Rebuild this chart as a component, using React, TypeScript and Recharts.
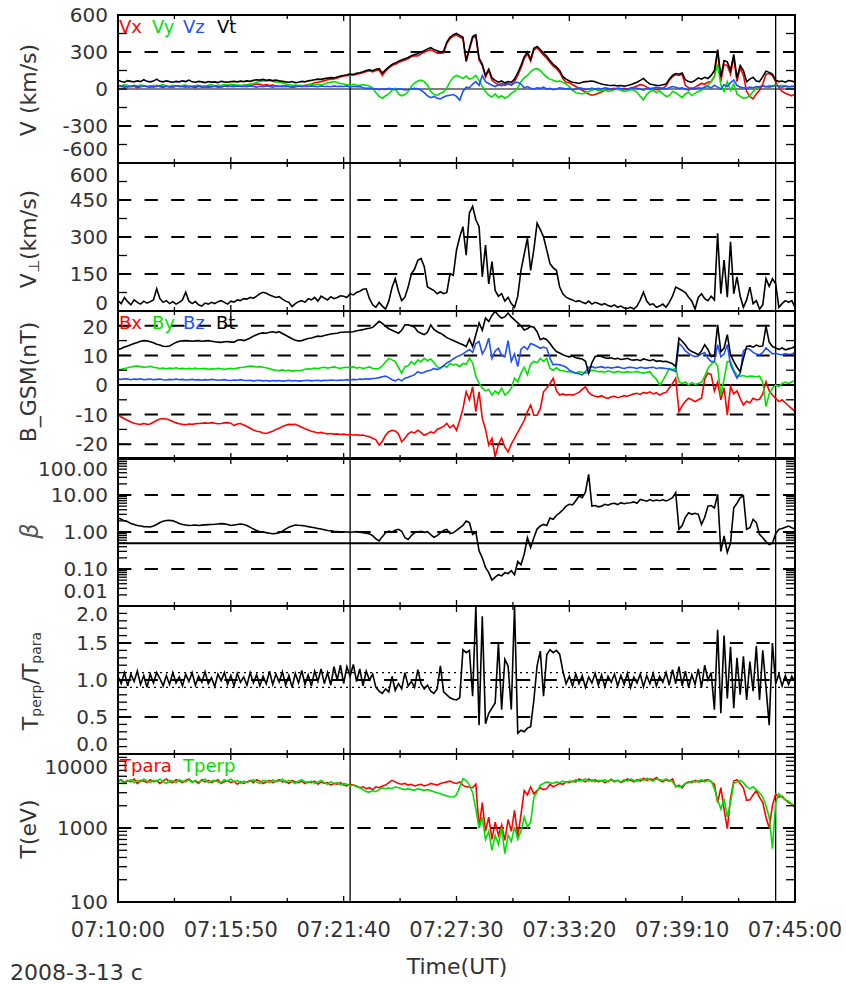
import React from 'react';
import { LineChart, Line, XAxis, YAxis, ReferenceLine } from 'recharts';

const FONT = '"DejaVu Sans", sans-serif';
const TEXT = '#333';
const RED = '#ff0000';
const GREEN = '#00e000';
const BLUE = '#1f4fff';
const BLACK = '#000000';

const W = 846;
const PL = 118;
const PR = 795;
const PH = 148;
const TOPS = [15, 163, 311, 458, 606, 754];

// time axis: seconds after 07:10:00, sampled every 10 s
const START_SEC = 7 * 3600 + 10 * 60;
const STEP = 10;
const TIME = Array.from({ length: 211 }, (_, i) => i * STEP);
const X_TICKS = [0, 175, 350, 525, 700, 875, 1050, 1225, 1400, 1575, 1750, 1925, 2100];
const EVENT_TIMES = [720, 2040];

// ---- Panel 1: V (km/s)
const VX = [
  25, 20, 15, 28, 18, 22, 10, 20, 25, 18,
  15, 22, 30, 18, 12, 25, 20, 15, 22, 28,
  20, 15, 25, 18, 10, 22, 15, 20, 12, 18,
  22, 15, 20, 25, 18, 22, 28, 20, 25, 30,
  32, 28, 35, 40, 38, 30, 35, 28, 32, 25,
  22, 18, 25, 20, 15, 18, 22, 25, 30, 35,
  40, 50, 55, 60, 68, 75, 80, 82, 90, 98,
  105, 108, 115, 112, 120, 125, 132, 142, 148, 138,
  150, 155, 110, 145, 170, 190, 200, 215, 225, 235,
  245, 262, 270, 268, 285, 298, 310, 318, 305, 290,
  290, 292, 368, 408, 428, 438, 422, 410, 220, 320,
  412, 428, 235, 190, 95, 150, 70, 50, 35, 45,
  30, 40, 35, 60, 110, 170, 245, 285, 225, 315,
  335, 305, 275, 250, 215, 185, 165, 135, 85, 55,
  50, 35, 20, 5, -10, -25, -40, -50, -45, -35,
  -25, -10, -5, 0, 5, -5, 0, 5, -3, 8,
  15, 25, 35, 30, 15, 5, 0, -5, 0, 5,
  25, 70, 100, 115, 110, 120, 30, 10, 5, 15,
  30, 45, 40, 55, 60, 100, 310, 60, 200, 190,
  120, 260, 60, 170, 110, -20, -60, -80, -40, -10,
  40, 120, 125, 110, 60, 10, -20, -35, -45, -55,
  -40,
];
const VY = [
  30, 25, 35, 28, 22, 30, 25, 32, 28, 20,
  25, 30, 22, 28, 35, 25, 20, 30, 25, 22,
  28, 32, 25, 20, 28, 30, 22, 25, 30, 35,
  25, 30, 28, 35, 30, 38, 35, 32, 30, 28,
  35, 40, 45, 55, 62, 68, 65, 70, 62, 58,
  55, 48, 40, 35, 30, 32, 28, 30, 25, 32,
  35, 30, 38, 32, 40, 48, 55, 60, 52, 45,
  40, 35, 30, 38, 32, 28, 35, 30, 25, 10,
  -30, -60, -75, -55, -40, -10, 5, -40, -55, -45,
  -20, 20, 50, 65, 72, 60, 30, -20, -45, -50,
  -35, -25, 10, 60, 95, 110, 100, 85, 105, 80,
  90, 110, 70, 20, -20, -50, -65, -40, -70, -55,
  -75, -60, -35, -20, 10, 60, 90, 110, 140, 160,
  165, 150, 120, 95, 80, 70, 60, 65, 55, 40,
  20, -10, -30, -35, -40, -30, -20, -10, 0, -15,
  -10, -5, -20, -15, -5, 0, -10, -20, -15, -5,
  -10, -25, -60, -89, -45, -20, -10, -30, -15, -40,
  -60, -55, -20, -30, -50, -70, -40, -25, -55, -35,
  -20, -10, 20, 30, 60, 100, 200, 30, -20, 60,
  -10, 40, -40, -60, -75, -70, -55, -20, 10, 20,
  25, 15, 30, 20, 35, 25, 30, 20, 15, 25,
  20,
];
const VZ = [
  18, 25, 20, 15, 22, 28, 20, 18, 24, 20,
  22, 15, 20, 25, 18, 22, 15, 20, 26, 18,
  20, 24, 15, 22, 18, 25, 20, 15, 22, 18,
  24, 20, 15, 22, 28, 20, 18, 25, 20, 22,
  18, 24, 20, 15, 22, 18, 25, 20, 15, 22,
  20, 25, 18, 22, 15, 20, 24, 18, 22, 20,
  25, 20, 18, 24, 20, 22, 18, 25, 20, 22,
  20, 25, 15, 22, 18, 20, 10, 5, 8, 0,
  2, -5, 0, -3, 5, 0, -5, 2, 0, -8,
  -5, 0, 5, 2, -10, -30, -55, -70, -60, -75,
  -80, -65, -55, -50, -45, -60, -90, -20, 15, 10,
  40, 60, 30, 110, 60, 45, 30, 20, 35, 25,
  40, 45, 30, 50, 55, 40, 10, 20, 5, 0,
  10, 5, 15, 0, 5, -5, 0, 10, 5, 0,
  5, -8, 0, 10, 5, -5, 0, 8, -3, 5,
  0, 10, 5, -5, 0, 8, 3, -5, 0, 5,
  10, 5, 0, -10, 5, 0, 8, 15, 10, 5,
  0, 10, 20, 15, 5, 10, 0, -10, 5, 0,
  10, 5, 15, 20, 10, 30, 15, 0, 35, 20,
  50, 73, 30, 15, 10, 5, 15, 10, 20, 15,
  25, 20, 15, 25, 30, 20, 15, 25, 20, 18,
  20,
];
const VT = [
  72, 60, 55, 68, 62, 58, 66, 60, 75, 62,
  58, 64, 80, 62, 58, 66, 60, 55, 62, 58,
  66, 60, 72, 58, 55, 62, 58, 52, 60, 56,
  58, 52, 62, 58, 55, 60, 62, 58, 64, 60,
  66, 62, 70, 75, 72, 78, 70, 74, 68, 72,
  66, 62, 58, 55, 60, 52, 55, 62, 58, 66,
  70, 75, 80, 78, 84, 88, 92, 90, 98, 105,
  110, 115, 122, 118, 128, 132, 140, 150, 155, 148,
  160, 165, 130, 155, 180, 200, 210, 225, 235, 245,
  255, 270, 280, 285, 300, 310, 325, 335, 320, 310,
  300, 305, 380, 420, 440, 450, 435, 420, 230, 330,
  425, 440, 250, 200, 110, 160, 90, 70, 55, 65,
  50, 60, 55, 80, 130, 190, 260, 300, 240, 330,
  345, 320, 290, 265, 230, 200, 180, 150, 100, 80,
  65, 55, 50, 45, 55, 60, 62, 65, 58, 48,
  40, 35, 30, 28, 30, 25, 28, 22, 28, 35,
  45, 55, 70, 85, 60, 40, 35, 30, 28, 35,
  40, 80, 110, 125, 120, 130, 75, 60, 55, 70,
  90, 80, 95, 85, 110, 150, 320, 100, 230, 220,
  150, 280, 90, 190, 150, 60, 80, 95, 65, 60,
  100, 145, 135, 120, 70, 60, 65, 55, 68, 65,
  55,
];

// ---- Panel 2: V perp (km/s)
const VPERP = [
  42, 30, 55, 38, 25, 45, 35, 28, 40, 32,
  38, 45, 90, 50, 35, 42, 30, 38, 28, 35,
  45, 76, 40, 30, 38, 25, 20, 32, 28, 35,
  30, 38, 42, 35, 28, 40, 36, 45, 42, 50,
  48, 55, 52, 60, 70, 76, 72, 65, 60, 55,
  58, 48, 40, 35, 18, 30, 38, 42, 35, 50,
  45, 55, 40, 60, 52, 45, 58, 50, 55, 62,
  60, 55, 70, 65, 75, 80, 88, 90, 50, 25,
  15, 35, 20, 8, 40, 95, 131, 80, 42, 56,
  97, 151, 170, 206, 213, 180, 97, 90, 83, 70,
  78, 70, 75, 151, 145, 247, 300, 342, 226, 397,
  424, 370, 342, 138, 267, 110, 200, 83, 60, 70,
  40, 55, 30, 15, 60, 165, 230, 295, 165, 250,
  356, 330, 300, 247, 192, 175, 165, 97, 70, 56,
  50, 45, 38, 42, 35, 30, 40, 28, 35, 30,
  25, 30, 22, 18, 25, 15, 20, 12, 10, 15,
  8, 20, 45, 76, 40, 25, 29, 15, 20, 28,
  15, 35, 60, 97, 90, 83, 75, 56, 40, 8,
  55, 70, 50, 42, 60, 45, 315, 70, 206, 56,
  281, 70, 138, 60, 15, 45, 97, 30, 42, 8,
  25, 131, 100, 131, 110, 15, 30, 42, 35, 42,
  15,
];

// ---- Panel 3: B_GSM (nT)
const BX = [
  -10.2, -10.8, -11.4, -12.0, -12.5, -12.9, -13.2, -13.3, -13.0, -13.3,
  -13.2, -12.6, -12.0, -11.5, -11.3, -11.5, -11.8, -12.3, -12.8, -13.1,
  -13.3, -13.4, -13.2, -13.3, -13.1, -13.0, -12.9, -12.8, -12.9, -12.7,
  -12.9, -13.1, -13.0, -12.8, -12.7, -12.9, -13.7, -13.2, -13.0, -13.5,
  -14.0, -14.6, -15.2, -15.6, -15.8, -16.2, -16.4, -16.0, -15.6, -15.0,
  -14.6, -14.0, -13.6, -13.3, -13.4, -13.3, -13.8, -14.3, -14.8, -15.2,
  -15.6, -15.9, -16.2, -16.0, -16.3, -16.5, -16.4, -16.6, -16.5, -16.7,
  -16.6, -16.8, -16.7, -16.9, -16.8, -17.0, -16.9, -17.2, -17.5, -18.0,
  -18.5, -20.3, -19.0, -17.0, -15.8, -15.3, -15.5, -16.5, -19.2, -18.0,
  -16.5, -15.8, -16.2, -15.3, -16.0, -17.0, -16.5, -15.8, -16.2, -15.0,
  -14.5, -14.0, -13.0, -14.5, -13.5, -15.3, -12.0, -8.0, -2.3, -5.0,
  -0.6, -9.0, -2.3, -11.3, -15.0, -20.3, -18.0, -24.3, -20.0, -18.0,
  -21.0, -22.6, -20.0, -18.0, -16.0, -14.0, -12.0, -9.0, -6.8, -10.2,
  -10.2, -8.0, -2.3, -1.0, 0.5, 2.3, -2.0, -3.4, -3.0, -3.4,
  -3.2, -3.4, -3.0, -2.5, -1.5, -0.6, -2.5, -3.4, -3.8, -4.0,
  -3.6, -4.2, -4.5, -4.0, -3.8, -4.3, -4.0, -3.6, -3.8, -3.4,
  -3.0, -2.8, -3.2, -2.5, -2.8, -2.3, -3.0, -2.6, -3.4, -2.8,
  -2.5, -1.0, 0.5, 2.3, -9.0, -7.0, -5.5, -4.5, -5.0, -5.6,
  -5.0, -4.5, 2.0, 4.0, 3.5, -2.0, 1.0, -5.0, -1.0, -10.2,
  -0.5, -3.0, -2.0, -4.5, -6.8, -5.5, -6.0, -4.5, -5.0, -4.8,
  -3.0, 1.1, -2.0, -3.4, -4.5, -5.6, -5.0, -6.0, -7.0, -8.0,
  -9.0,
];
const BY = [
  5.1, 5.3, 5.6, 5.8, 6.1, 6.3, 6.4, 6.2, 6.0, 6.1,
  6.3, 6.0, 5.8, 5.6, 5.7, 5.5, 5.7, 5.6, 5.8, 5.5,
  5.6, 5.4, 5.6, 5.5, 5.7, 5.4, 5.5, 5.6, 5.3, 5.5,
  5.4, 5.6, 5.5, 5.3, 5.5, 5.6, 5.4, 5.7, 5.9, 6.0,
  6.2, 6.4, 6.3, 6.1, 6.2, 6.0, 5.8, 5.5, 5.2, 5.0,
  4.9, 5.1, 4.8, 5.0, 4.7, 4.9, 4.8, 5.0, 5.3, 5.5,
  5.4, 5.7, 5.5, 5.8, 6.0, 5.7, 5.9, 6.1, 5.8, 5.6,
  5.9, 6.0, 5.8, 6.2, 5.7, 6.0, 5.6, 5.8, 6.1, 5.6,
  5.5, 5.6, 6.5, 7.8, 9.0, 8.5, 7.9, 6.0, 4.0, 6.2,
  6.5, 7.9, 7.0, 8.5, 7.8, 9.0, 8.2, 8.8, 7.5, 6.2,
  5.6, 6.5, 6.0, 7.3, 6.8, 7.0, 6.2, 7.3, 7.0, 9.0,
  7.5, 3.0, 0.6, -1.0, -2.0, -1.5, -3.4, -2.0, -3.0, -1.0,
  -3.4, -2.5, -1.0, 2.3, 1.0, 4.0, 6.0, 3.5, 7.0, 8.0,
  7.5, 9.0, 8.0, 9.0, 5.6, 5.0, 5.8, 5.0, 4.8, 4.5,
  4.6, 4.2, 4.0, 4.5, 4.3, 4.0, 4.2, 5.0, 4.8, 4.5,
  4.6, 4.3, 4.8, 4.5, 4.2, 4.6, 4.4, 4.2, 4.5, 4.3,
  4.4, 4.6, 4.2, 4.0, 4.3, 4.5, 3.0, 2.0, 0.0, 1.5,
  3.5, 5.6, 5.2, 5.6, 1.1, 0.5, 1.0, 0.0, 0.8, 0.2,
  0.5, 1.0, 3.0, 5.6, 7.0, 7.9, 6.5, -3.4, 2.0, 7.9,
  7.9, 5.0, 3.4, 3.0, 3.2, 2.8, 3.0, 2.9, 2.8, 3.0,
  1.0, -7.3, -3.0, -1.1, 0.0, -0.5, 0.5, 1.0, 0.5, 1.1,
  1.5,
];
const BZ = [
  2.0, 1.9, 2.1, 2.0, 1.8, 2.0, 1.9, 2.1, 1.8, 1.9,
  2.0, 1.8, 1.9, 2.0, 1.8, 1.7, 1.9, 1.8, 2.0, 1.8,
  1.9, 1.7, 1.8, 1.9, 1.7, 1.8, 1.6, 1.8, 1.7, 1.9,
  1.8, 1.6, 1.7, 1.8, 1.6, 1.5, 1.7, 1.6, 1.8, 1.6,
  1.5, 1.6, 1.4, 1.5, 1.6, 1.4, 1.5, 1.3, 1.5, 1.4,
  1.5, 1.3, 1.4, 1.6, 1.4, 1.5, 1.3, 1.4, 1.5, 1.6,
  1.4, 1.5, 1.6, 1.4, 1.6, 1.5, 1.7, 1.6, 1.5, 1.7,
  1.6, 1.8, 1.7, 1.9, 1.8, 2.0, 1.9, 2.1, 2.0, 2.2,
  2.3, 2.5, 2.8, 3.0, 2.5, 1.8, 1.4, 2.0, 1.4, 2.3,
  2.6, 3.0, 3.5, 4.5, 4.0, 4.3, 4.8, 5.0, 5.6, 5.2,
  5.8, 6.5, 7.5, 8.0, 8.8, 9.5, 10.0, 10.5, 11.3, 12.0,
  11.0, 14.0, 14.7, 10.5, 12.4, 15.8, 9.0, 11.5, 12.4, 10.0,
  9.5, 15.0, 8.0, 10.5, 6.2, 12.0, 13.0, 12.0, 14.0, 13.6,
  13.0, 12.4, 12.8, 12.4, 9.0, 6.8, 7.0, 6.8, 6.5, 6.0,
  5.0, 4.5, 4.0, 3.8, 3.4, 4.5, 6.0, 6.2, 5.8, 6.0,
  6.2, 5.8, 6.0, 5.7, 5.9, 6.1, 5.8, 5.6, 5.9, 6.0,
  5.8, 5.6, 6.0, 5.8, 5.7, 5.9, 6.0, 5.6, 5.8, 5.7,
  5.6, 5.4, 5.0, 4.5, 14.1, 13.0, 11.5, 10.7, 10.0, 9.6,
  9.8, 10.5, 11.0, 9.0, 7.9, 8.0, 13.6, 9.5, 10.5, 13.6,
  6.8, 4.5, 2.3, 4.0, 11.5, 12.4, 12.0, 11.0, 10.5, 10.2,
  11.0, 12.5, 11.5, 10.5, 10.7, 10.4, 10.2, 10.6, 10.3, 10.5,
  11.0,
];
const BT = [
  11.9, 12.3, 12.8, 13.2, 13.6, 14.0, 14.4, 14.8, 15.0, 14.9,
  14.6, 14.3, 13.8, 13.5, 13.1, 13.0, 13.2, 13.8, 14.4, 14.8,
  14.9, 15.0, 14.9, 14.8, 14.9, 15.0, 14.8, 14.9, 15.0, 14.8,
  14.6, 14.5, 14.4, 14.6, 14.7, 14.5, 14.5, 15.1, 15.3, 15.0,
  15.4, 15.9, 16.5, 17.0, 17.4, 17.6, 17.5, 17.8, 18.0, 17.7,
  18.0, 17.4, 16.8, 16.2, 15.6, 15.1, 14.9, 15.0, 15.4, 15.7,
  15.9, 16.2, 16.5, 16.4, 16.7, 17.0, 17.2, 17.4, 17.5, 17.8,
  17.8, 17.9, 17.9, 18.0, 18.3, 18.5, 18.7, 19.0, 19.2, 19.5,
  20.5, 21.5, 20.8, 19.8, 19.0, 18.5, 18.0, 17.5, 18.5, 20.3,
  20.3, 20.0, 19.5, 18.0, 17.5, 17.0, 17.8, 20.3, 18.8, 18.0,
  17.5, 16.8, 16.0, 15.5, 15.0, 14.5, 14.0, 13.6, 13.0, 15.5,
  13.0, 17.0, 21.0, 18.5, 22.6, 21.5, 23.5, 24.9, 23.5, 22.6,
  23.0, 24.3, 23.0, 22.0, 21.0, 20.0, 18.6, 19.0, 19.8, 19.5,
  18.0, 15.3, 15.8, 15.3, 14.0, 12.5, 11.3, 10.8, 10.2, 9.8,
  9.5, 9.8, 9.2, 9.0, 8.8, 8.0, 4.0, 7.5, 9.6, 9.8,
  9.6, 9.2, 9.0, 9.2, 8.8, 9.0, 8.6, 8.8, 9.0, 8.5,
  8.4, 8.6, 8.2, 8.8, 8.5, 8.2, 8.6, 8.0, 8.2, 7.9,
  8.0, 7.6, 7.2, 6.2, 15.8, 14.8, 13.5, 12.0, 11.3, 10.8,
  10.2, 11.5, 13.6, 12.0, 9.6, 9.8, 20.3, 11.3, 12.5, 17.0,
  10.2, 8.0, 6.0, 4.5, 9.0, 13.0, 13.2, 12.8, 13.5, 13.0,
  13.2, 19.8, 14.5, 13.0, 12.5, 12.0, 12.5, 11.9, 12.2, 12.5,
  13.0,
];

// ---- Panel 4: plasma beta
const BETA = [
  2.4, 2.2, 2.0, 1.9, 1.7, 1.6, 1.5, 1.45, 1.4, 1.38,
  1.36, 1.45, 1.6, 1.8, 1.95, 2.05, 2.07, 2.0, 1.85, 1.7,
  1.6, 1.55, 1.5, 1.52, 1.55, 1.5, 1.53, 1.56, 1.58, 1.6,
  1.62, 1.65, 1.68, 1.66, 1.6, 1.5, 1.55, 1.6, 1.65, 1.6,
  1.5, 1.35, 1.2, 1.1, 1.02, 1.0, 0.96, 0.93, 0.9, 0.92,
  0.95, 1.05, 1.2, 1.35, 1.45, 1.55, 1.52, 1.5, 1.45, 1.4,
  1.35, 1.3, 1.25, 1.2, 1.15, 1.1, 1.08, 1.05, 1.03, 1.0,
  1.02, 1.0, 0.98, 1.0, 1.02, 0.98, 0.96, 0.92, 0.88, 0.8,
  0.65, 0.57, 0.75, 0.95, 1.06, 1.0, 1.12, 1.18, 1.05, 0.7,
  0.63, 0.8, 0.96, 1.0, 1.05, 0.98, 1.02, 0.85, 0.72, 0.8,
  0.95, 1.1, 1.18, 0.9, 0.95, 1.1, 1.3, 1.5, 1.98, 1.8,
  0.86, 1.0, 0.31, 0.2, 0.11, 0.08, 0.05, 0.06, 0.07, 0.065,
  0.08, 0.075, 0.09, 0.07, 0.16, 0.13, 0.25, 0.7, 0.38, 0.7,
  1.2, 1.45, 1.6, 1.5, 2.4, 2.2, 2.8, 3.3, 4.0, 5.0,
  5.6, 5.4, 7.0, 9.4, 8.5, 12, 36, 5.0, 5.2, 4.8,
  5.0, 5.6, 5.3, 5.8, 6.0, 5.5, 6.2, 5.8, 6.1, 6.2,
  6.5, 6.0, 7.6, 7.2, 6.8, 7.5, 6.9, 7.3, 7.0, 7.4,
  6.9, 7.5, 8.5, 11.6, 1.18, 1.5, 2.5, 3.3, 3.0, 3.2,
  3.0, 1.6, 2.5, 5.0, 5.2, 4.5, 10.4, 0.3, 0.78, 0.28,
  0.5, 4.5, 6.0, 8.5, 9.4, 1.18, 1.3, 2.2, 1.8, 0.86,
  0.7, 0.55, 0.46, 0.5, 0.9, 1.18, 1.25, 1.35, 1.45, 1.3,
  1.2,
];

// ---- Panel 5: Tperp / Tpara
const RATIO = [
  1.05, 0.95, 1.10, 0.92, 1.08, 0.98, 1.12, 0.94, 1.06, 0.90,
  1.08, 0.96, 1.10, 1.02, 0.92, 1.06, 0.94, 1.10, 0.96, 1.04,
  0.92, 1.08, 0.98, 1.10, 0.93, 1.05, 0.97, 1.11, 0.95, 1.03,
  0.91, 1.08, 0.99, 1.10, 0.94, 1.06, 0.92, 1.09, 0.97, 1.04,
  0.93, 1.10, 0.96, 1.07, 0.92, 1.05, 0.95, 1.12, 0.94, 1.08,
  0.97, 1.11, 0.93, 1.06, 0.90, 1.09, 0.96, 1.13, 0.94, 1.07,
  0.92, 1.12, 0.98, 1.15, 0.95, 1.10, 0.93, 1.18, 1.00, 1.20,
  0.95, 1.18, 1.05, 1.21, 0.98, 1.15, 0.92, 1.12, 1.00, 1.08,
  0.90, 0.85, 0.82, 0.88, 0.84, 1.05, 0.86, 0.95, 0.88, 1.10,
  0.92, 0.98, 0.90, 1.14, 0.95, 0.88, 0.93, 0.85, 0.82, 0.88,
  1.19, 0.84, 0.80, 0.76, 0.74, 0.73, 0.76, 1.41, 1.37, 1.40,
  0.78, 2.0, 0.39, 1.86, 0.41, 0.55, 0.62, 0.69, 1.5, 0.6,
  1.28, 1.19, 0.6, 2.0, 0.28, 0.32, 0.30, 0.35, 0.37, 0.73,
  1.19, 1.39, 0.78, 1.34, 1.41, 1.37, 1.40, 1.35, 1.12, 0.95,
  1.05, 0.92, 1.08, 0.95, 1.06, 0.90, 1.04, 0.96, 1.09, 0.93,
  1.07, 0.91, 1.05, 0.97, 1.08, 0.92, 1.06, 0.94, 1.09, 0.90,
  1.04, 0.96, 1.08, 0.91, 1.06, 0.95, 1.09, 0.92, 1.05, 0.97,
  1.10, 0.93, 1.14, 0.95, 1.18, 0.92, 1.12, 0.90, 1.07, 0.94,
  1.15, 0.90, 1.20, 1.00, 1.10, 0.60, 1.68, 0.55, 1.60, 0.75,
  1.45, 0.62, 1.30, 0.80, 1.32, 0.73, 1.25, 0.85, 1.46, 0.73,
  1.40, 0.90, 0.39, 1.50, 0.95, 1.08, 0.92, 1.06, 0.94, 1.05,
  0.98,
];

// ---- Panel 6: temperatures (eV)
const TPARA = [
  4300, 4500, 4100, 4400, 4200, 4600, 4000, 4400, 4300, 4100,
  4500, 4200, 4400, 4000, 4300, 4600, 4200, 4100, 4500, 4300,
  4100, 4400, 4600, 4200, 4300, 4000, 4500, 4200, 4400, 4100,
  4300, 4500, 4000, 4200, 4400, 4100, 4300, 3900, 4200, 4000,
  4200, 4400, 4100, 4500, 4300, 4000, 4200, 4400, 4100, 4300,
  4500, 4200, 4300, 4000, 4400, 4200, 4100, 4300, 4000, 4200,
  4100, 4300, 3900, 4200, 4000, 4100, 3800, 4000, 3900, 4100,
  3800, 3700, 3900, 3800, 3700, 3500, 3600, 3400, 3500, 3300,
  3600, 3500, 3700, 3800, 4100, 4400, 4200, 4000, 3900, 4000,
  3800, 3900, 3700, 3800, 3900, 3700, 3800, 4000, 3900, 3800,
  4000, 4100, 4200, 4300, 4100, 4000, 4200, 3800, 3600, 3580,
  3500, 3900, 1000, 2200, 900, 1400, 700, 1200, 800, 1100,
  680, 1300, 900, 1730, 760, 1500, 3200, 2800, 3580, 2900,
  3200, 3500, 3300, 3400, 3900, 3600, 3800, 4000, 3900, 4200,
  4100, 4300, 4200, 4600, 4400, 4200, 4600, 4300, 4500, 4200,
  4400, 4100, 4300, 4500, 4200, 4400, 4100, 4300, 4600, 4400,
  4200, 4500, 4300, 4700, 4400, 4600, 4500, 4800, 4400, 4200,
  4500, 4300, 4600, 3600, 3800, 3500, 4000, 4200, 4100, 4400,
  4200, 4300, 4400, 4500, 4200, 3900, 2200, 3500, 1800, 980,
  2500, 4300, 4500, 4000, 3500, 2360, 2400, 2800, 3200, 2600,
  2200, 1400, 1000, 2000, 2900, 2600, 2700, 2400, 2200, 2100,
  1900,
];
const TPERP = [
  4200, 4400, 4000, 4300, 4500, 4100, 4400, 4200, 4600, 4300,
  4100, 4400, 4300, 4600, 4200, 4000, 4400, 4300, 4100, 4500,
  4300, 4200, 4500, 4100, 4400, 4200, 4300, 4600, 4100, 4300,
  4400, 4200, 4100, 4500, 4300, 4600, 4200, 4400, 4000, 4300,
  4100, 4300, 4500, 4200, 4000, 4400, 4300, 4100, 4500, 4200,
  4300, 4600, 4100, 4400, 4200, 4000, 4300, 4500, 4200, 4100,
  4300, 4000, 4200, 4400, 4100, 3900, 4200, 4000, 4100, 3800,
  4000, 3900, 3700, 3800, 3600, 3500, 3300, 3100, 3060, 3200,
  3100, 3300, 3500, 3400, 3500, 3400, 3600, 3500, 3400, 3300,
  3400, 3300, 3250, 3400, 3300, 3230, 3300, 3200, 3100, 3000,
  2900, 2800, 2700, 2650, 2620, 2800, 3600, 4640, 4400, 3800,
  3000, 1800, 1000, 1400, 700, 900, 500, 800, 600, 1000,
  450, 800, 660, 1030, 700, 900, 1410, 1030, 1200, 2600,
  3060, 3800, 4000, 4200, 4100, 4000, 4200, 4100, 4300, 4100,
  4300, 4200, 4500, 4300, 4400, 4600, 4300, 4500, 4200, 4400,
  4300, 4500, 4200, 4600, 4300, 4400, 4200, 4500, 4300, 4600,
  4400, 4300, 4600, 4400, 4700, 4500, 4300, 4600, 4500, 4400,
  4600, 4400, 4200, 3700, 3580, 3700, 4000, 4100, 4300, 4200,
  4300, 4500, 4200, 4400, 4300, 3400, 2400, 1800, 2500, 1410,
  2200, 4000, 4200, 4400, 4100, 3600, 3400, 3600, 3300, 3000,
  2620, 2000, 1400, 525, 2200, 2900, 2600, 2400, 2300, 2100,
  2000,
];

const ROWS = TIME.map((t, i) => ({
  t,
  vx: VX[i], vy: VY[i], vz: VZ[i], vt: VT[i],
  vperp: VPERP[i],
  bx: BX[i], by: BY[i], bz: BZ[i], bt: BT[i],
  beta: BETA[i],
  ratio: RATIO[i],
  tpara: TPARA[i], tperp: TPERP[i],
}));

const fmtTime = (s: number) => {
  const tot = START_SEC + s;
  const h = Math.floor(tot / 3600);
  const m = Math.floor((tot % 3600) / 60);
  const sec = tot % 60;
  const p = (n: number) => String(n).padStart(2, '0');
  return `${p(h)}:${p(m)}:${p(sec)}`;
};

const isDecade = (v: number) => {
  const l = Math.log10(v);
  return Math.abs(l - Math.round(l)) < 1e-6;
};
const logTicks = (decades: number[], last: number) => [
  ...decades.flatMap((d) => [1, 2, 3, 4, 5, 6, 7, 8, 9].map((k) => k * d)),
  last,
];

type Ref = { y: number; w: number; dash?: string };
type Cfg = {
  domain: [number, number];
  log?: boolean;
  ticks: number[];
  fmt: (v: number) => string;
  shift?: Record<string, number>;
  refs: Ref[];
  series: { key: string; color: string }[];
};

const DASH = '13.3 13.3';
const DOT = '2 4';

const PANELS: Cfg[] = [
  {
    domain: [-600, 600],
    ticks: [-600, -450, -300, -150, 0, 150, 300, 450, 600],
    fmt: (v) => (v % 300 === 0 ? String(v) : ''),
    shift: { '-600': -14 },
    refs: [
      { y: 300, w: 2, dash: DASH },
      { y: -300, w: 2, dash: DASH },
      { y: 0, w: 1.2 },
    ],
    series: [
      { key: 'vx', color: RED },
      { key: 'vy', color: GREEN },
      { key: 'vz', color: BLUE },
      { key: 'vt', color: BLACK },
    ],
  },
  {
    domain: [0, 600],
    ticks: [0, 75, 150, 225, 300, 375, 450, 525, 600],
    fmt: (v) => (v % 150 === 0 ? String(v) : ''),
    shift: { '600': 12, '0': -8 },
    refs: [
      { y: 150, w: 2, dash: DASH },
      { y: 300, w: 2, dash: DASH },
      { y: 450, w: 2, dash: DASH },
    ],
    series: [{ key: 'vperp', color: BLACK }],
  },
  {
    domain: [-25, 25],
    ticks: [-25, -20, -15, -10, -5, 0, 5, 10, 15, 20, 25],
    fmt: (v) => (v % 10 === 0 ? String(v) : ''),
    shift: { '20': 1 },
    refs: [
      { y: 20, w: 2, dash: DASH },
      { y: 10, w: 2, dash: DASH },
      { y: -10, w: 2, dash: DASH },
      { y: -20, w: 2, dash: DASH },
      { y: 0, w: 2 },
    ],
    series: [
      { key: 'bx', color: RED },
      { key: 'by', color: GREEN },
      { key: 'bz', color: BLUE },
      { key: 'bt', color: BLACK },
    ],
  },
  {
    domain: [0.01, 100],
    log: true,
    ticks: logTicks([0.01, 0.1, 1, 10], 100),
    fmt: (v) => (isDecade(v) ? v.toFixed(2) : ''),
    shift: { '100': 11, '0.01': -15 },
    refs: [
      { y: 10, w: 2, dash: DASH },
      { y: 1, w: 2, dash: DASH },
      { y: 0.1, w: 2, dash: DASH },
      { y: 0.5, w: 2 },
    ],
    series: [{ key: 'beta', color: BLACK }],
  },
  {
    domain: [0, 2],
    ticks: Array.from({ length: 21 }, (_, k) => k / 10),
    fmt: (v) => (Math.round(v * 10) % 5 === 0 ? v.toFixed(1) : ''),
    shift: { '2': 8, '0': -10 },
    refs: [
      { y: 1.5, w: 2, dash: DASH },
      { y: 1.0, w: 2, dash: DASH },
      { y: 0.5, w: 2, dash: DASH },
      { y: 1.1, w: 1.2, dash: DOT },
      { y: 0.9, w: 1.2, dash: DOT },
    ],
    series: [{ key: 'ratio', color: BLACK }],
  },
  {
    domain: [100, 10000],
    log: true,
    ticks: logTicks([100, 1000], 10000),
    fmt: (v) => (isDecade(v) ? String(Math.round(v)) : ''),
    shift: { '10000': 13 },
    refs: [{ y: 1000, w: 2, dash: DASH }],
    series: [
      { key: 'tpara', color: RED },
      { key: 'tperp', color: GREEN },
    ],
  },
];

const YTick = (props: any) => {
  const { y, payload, fmt, shift } = props;
  const v = payload.value;
  const label = fmt(v);
  const dy = (shift && shift[String(v)]) || 0;
  return (
    <g>
      <line x1={PL} y1={y} x2={PL + 9} y2={y} stroke="#000" strokeWidth={1.3} />
      <line x1={PR} y1={y} x2={PR - 9} y2={y} stroke="#000" strokeWidth={1.3} />
      {label ? (
        <text
          x={PL - 10}
          y={y + dy}
          dy="0.36em"
          textAnchor="end"
          fontFamily={FONT}
          fontSize={20}
          fill={TEXT}
        >
          {label}
        </text>
      ) : null}
    </g>
  );
};

// axis line y is passed as `y` (tickSize and tickMargin are 0); the axis itself is 1px tall
const XTick = (props: any) => {
  const { x, y, payload, showLabel } = props;
  const v = payload.value;
  const major = v % 350 === 0;
  const len = major ? 6 : 4;
  return (
    <g>
      <line x1={x} y1={y} x2={x} y2={y - len} stroke="#000" strokeWidth={1.3} />
      <line x1={x} y1={y - PH} x2={x} y2={y - PH + len} stroke="#000" strokeWidth={1.3} />
      {showLabel && major ? (
        <text x={x} y={y + 27} dy="0.36em" textAnchor="middle" fontFamily={FONT} fontSize={21} fill={TEXT}>
          {fmtTime(v)}
        </text>
      ) : null}
    </g>
  );
};

function Panel({ cfg, index }: { cfg: Cfg; index: number }) {
  const mt = 20;
  const mb = index === 5 ? 60 : 20;
  const axisH = 1;
  return (
    <div style={{ position: 'absolute', left: 0, top: TOPS[index] - mt }}>
      <LineChart
        width={W}
        height={PH + mt + mb}
        data={ROWS}
        margin={{ top: mt, right: W - PR, bottom: mb - axisH, left: 0 }}
      >
        <XAxis
          dataKey="t"
          type="number"
          domain={[0, 2100]}
          ticks={X_TICKS}
          interval={0}
          height={axisH}
          axisLine={false}
          tickLine={false}
          tickSize={0}
          tickMargin={0}
          allowDataOverflow
          tick={(p: any) => <XTick {...p} showLabel={index === 5} />}
        />
        <YAxis
          type="number"
          scale={cfg.log ? 'log' : 'linear'}
          domain={cfg.domain}
          ticks={cfg.ticks}
          interval={0}
          width={PL}
          axisLine={false}
          tickLine={false}
          tickSize={0}
          tickMargin={0}
          allowDataOverflow
          tick={(p: any) => <YTick {...p} fmt={cfg.fmt} shift={cfg.shift} />}
        />
        {cfg.refs.map((r, k) => (
          <ReferenceLine
            key={`r${k}`}
            y={r.y}
            stroke="#000"
            strokeWidth={r.w}
            strokeDasharray={r.dash}
          />
        ))}
        {EVENT_TIMES.map((t) => (
          <ReferenceLine key={`e${t}`} x={t} stroke="#000" strokeWidth={1.3} />
        ))}
        {cfg.series.map((s) => (
          <Line
            key={s.key}
            dataKey={s.key}
            stroke={s.color}
            strokeWidth={1.6}
            dot={false}
            activeDot={false}
            type="linear"
            isAnimationActive={false}
          />
        ))}
      </LineChart>
    </div>
  );
}

const rotTitle = (cx: number, cy: number, content: React.ReactNode, extra: any = {}) => (
  <text
    transform={`translate(${cx},${cy}) rotate(-90)`}
    textAnchor="middle"
    dominantBaseline="central"
    fontFamily={FONT}
    fontSize={22}
    fill={TEXT}
    {...extra}
  >
    {content}
  </text>
);

const legend = (x: number, y: number, label: string, color: string) => (
  <text x={x} y={y} fontFamily={FONT} fontSize={18} fill={color}>
    {label}
  </text>
);

export default function App() {
  return (
    <div style={{ position: 'absolute', left: 0, top: 0, width: W, height: 985, background: '#fff' }}>
      {PANELS.map((cfg, i) => (
        <Panel key={i} cfg={cfg} index={i} />
      ))}
      <svg
        width={W}
        height={985}
        style={{ position: 'absolute', left: 0, top: 0, pointerEvents: 'none' }}
      >
        {TOPS.map((t, i) => (
          <rect key={i} x={PL} y={t} width={PR - PL} height={PH} fill="none" stroke="#000" strokeWidth={2} />
        ))}
        {rotTitle(28, 90, 'V (km/s)')}
        {rotTitle(
          28,
          239,
          <>
            <tspan>V</tspan>
            <tspan fontSize={15} dy={6}>⊥</tspan>
            <tspan dy={-6}>(km/s)</tspan>
          </>
        )}
        {rotTitle(28, 382, 'B_GSM(nT)')}
        {rotTitle(30, 531, 'β', { fontStyle: 'italic', fill: '#555', fontSize: 24 })}
        {rotTitle(
          30,
          681,
          <>
            <tspan>T</tspan>
            <tspan fontSize={14} dy={6}>perp</tspan>
            <tspan dy={-6}>/T</tspan>
            <tspan fontSize={14} dy={6}>para</tspan>
          </>
        )}
        {rotTitle(28, 829, 'T(eV)')}

        {legend(119, 33, 'Vx', RED)}
        {legend(152, 33, 'Vy', GREEN)}
        {legend(183, 33, 'Vz', BLUE)}
        {legend(217, 33, 'Vt', BLACK)}

        {legend(119, 329, 'Bx', RED)}
        {legend(152, 329, 'By', GREEN)}
        {legend(183, 329, 'Bz', BLUE)}
        {legend(216, 329, 'Bt', BLACK)}

        {legend(120, 772, 'Tpara', RED)}
        {legend(183, 772, 'Tperp', GREEN)}

        <text x={457} y={974} textAnchor="middle" fontFamily={FONT} fontSize={22} fill={TEXT}>
          Time(UT)
        </text>
        <text x={10} y={980} fontFamily={FONT} fontSize={22} fill={TEXT}>
          2008-3-13 c
        </text>
      </svg>
    </div>
  );
}
